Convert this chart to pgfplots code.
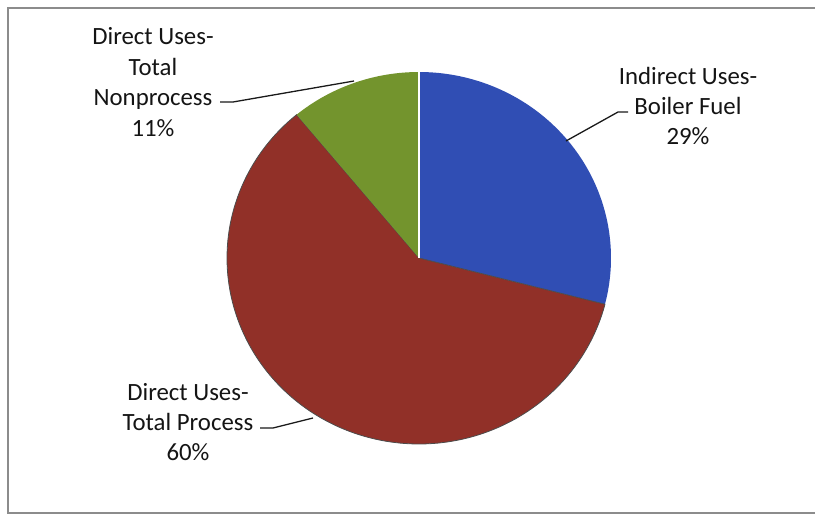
\documentclass[border=0pt]{standalone}
\usepackage{fontspec}
\setmainfont{Carlito}
\usepackage{pgfplots}
\pgfplotsset{compat=1.18}
\definecolor{cblue}{RGB}{48,78,180}
\definecolor{cred}{RGB}{145,48,40}
\definecolor{cgreen}{RGB}{115,148,45}
\definecolor{frame}{RGB}{140,140,140}
% shares (percent)
\def\valA{29}% Indirect Uses - Boiler Fuel
\def\valB{60}% Direct Uses - Total Process
\def\valC{11}% Direct Uses - Total Nonprocess
\pgfmathsetmacro{\aZ}{90}
\pgfmathsetmacro{\aA}{\aZ-3.6*\valA}
\pgfmathsetmacro{\aB}{\aA-3.6*\valB}
\pgfmathsetmacro{\aC}{\aB-3.6*\valC}
\tikzset{lbl/.style={align=center, font=\fontsize{24.9}{30.5}\selectfont, text=black!92, inner sep=0pt}}
\begin{document}
\begin{tikzpicture}
\begin{axis}[
  width=815bp, height=514bp, scale only axis,
  xmin=0, xmax=815, ymin=0, ymax=514, y dir=reverse,
  hide axis, clip=false,
]
\coordinate (bl) at (axis cs:0,514);
\coordinate (tr) at (axis cs:815,0);
% frame
\draw[frame, line width=1.2pt] (axis cs:815,8) -- (axis cs:8,8) -- (axis cs:8,513) -- (axis cs:815,513);
% slices
\addplot[fill=cblue, draw=none, domain=\aA:\aZ, samples=120] ({419+192*cos(x)},{258-186*sin(x)}) -- (axis cs:419,258) -- cycle;
\addplot[fill=cred, draw=black!70, line width=0.8pt, domain=\aB:\aA, samples=200] ({419+192*cos(x)},{258-186*sin(x)}) -- (axis cs:419,258) -- cycle;
\addplot[fill=cgreen, draw=none, domain=\aC:\aB, samples=60] ({419+192*cos(x)},{258-186*sin(x)}) -- (axis cs:419,258) -- cycle;
\draw[white, line width=1.5pt] (axis cs:419,258) -- (axis cs:419,72);
% leader lines
\draw[black!90, line width=1.3pt] (axis cs:566,141) -- (axis cs:618,112) -- (axis cs:628,112);
\draw[black!90, line width=1.3pt] (axis cs:354,81) -- (axis cs:233,102) -- (axis cs:220,102);
\draw[black!90, line width=1.3pt] (axis cs:313,418) -- (axis cs:273,428) -- (axis cs:260,428);
% labels
\node[lbl] at (axis cs:688,106) {Indirect Uses-\\Boiler Fuel\\29\%};
\node[lbl] at (axis cs:153,82) {Direct Uses-\\Total\\Nonprocess\\11\%};
\node[lbl] at (axis cs:188,422) {Direct Uses-\\Total Process\\60\%};
\end{axis}
\pgfresetboundingbox
\path[use as bounding box] (bl) rectangle (tr);
\end{tikzpicture}
\end{document}
